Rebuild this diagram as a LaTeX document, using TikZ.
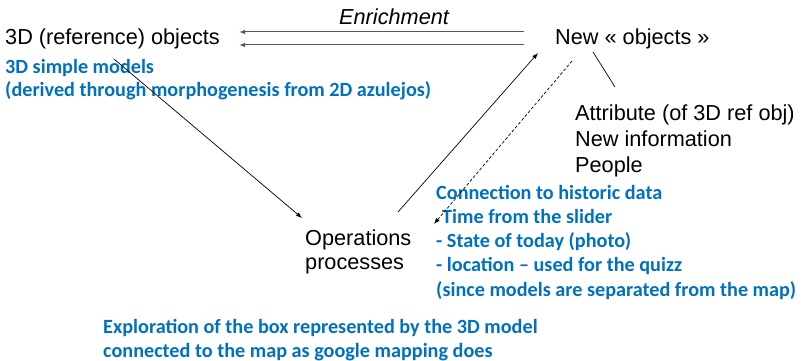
\documentclass[tikz,border=0pt]{standalone}
\usepackage{fontspec}
\setmainfont{Liberation Sans}
\newfontfamily\calibri{Carlito}
\usetikzlibrary{arrows.meta}
\definecolor{noteblue}{HTML}{0070C0}
\begin{document}
\begin{tikzpicture}[x=1pt,y=-1pt,
    txt/.style={inner sep=0pt,anchor=base west,align=left,
      font=\fontsize{21.7}{26}\selectfont},
    bluetxt/.style={inner sep=0pt,anchor=base west,align=left,text=noteblue,
      font=\calibri\bfseries\fontsize{20.2}{24}\selectfont},
    arr/.style={-{Latex[length=6pt,width=4.5pt]},line width=0.7pt}]
      \useasboundingbox (0,0) rectangle (801,361);
      % base of a text with several lines is its last line
      \node[txt] (ref) at (5,45) {3D (reference) objects};
      \node[txt,font=\fontsize{21.7}{26}\selectfont\itshape] (enrich) at (339,25) {Enrichment};
      \node[txt] (new) at (555,45) {New « objects »};
      \node[txt] (attr) at (575,172) {Attribute (of 3D ref obj)\\New information\\People};
      \node[txt,font=\fontsize{21.7}{24}\selectfont] (ops) at (305,269) {Operations\\processes};
      \node[bluetxt,font=\calibri\bfseries\fontsize{20.2}{23}\selectfont] (models) at (5,96)
        {3D simple models\\(derived through morphogenesis from 2D azulejos)};
      \node[bluetxt,font=\calibri\bfseries\fontsize{20.2}{24.25}\selectfont] (hist) at (436,296)
        {Connection to historic data\\\hspace*{6pt}Time from the slider\\- State of today (photo)\\- location – used for the quizz\\(since models are separated from the map)};
      \node[bluetxt] (explore) at (103,357)
        {Exploration of the box represented by the 3D model\\connected to the map as google mapping does};
      \begin{scope}[arr]
        \draw[draw=black!65,line width=1pt] ([xshift=-31pt,yshift=13pt]new.base west) to ([xshift=19pt,yshift=13pt]ref.base east);
        \draw[draw=black!65,line width=1pt] ([xshift=-31pt]new.base west) to ([xshift=19pt]ref.base east);
        \draw ([xshift=109pt,yshift=-14pt]ref.base west) to ([xshift=-3pt,yshift=51pt]ops.base west);
        \draw ([xshift=93pt,yshift=57pt]ops.base west) to ([xshift=-17pt,yshift=-8pt]new.base west);
        \draw[dashed,dash pattern=on 3pt off 2pt] ([xshift=17pt,yshift=-16pt]new.base west) to ([xshift=-2pt,yshift=72pt]hist.base west);
      \end{scope}
      \draw[line width=0.7pt] ([xshift=38pt,yshift=-7pt]new.base west) to ([xshift=40pt,yshift=85pt]attr.base west);
    \end{tikzpicture}
\end{document}
